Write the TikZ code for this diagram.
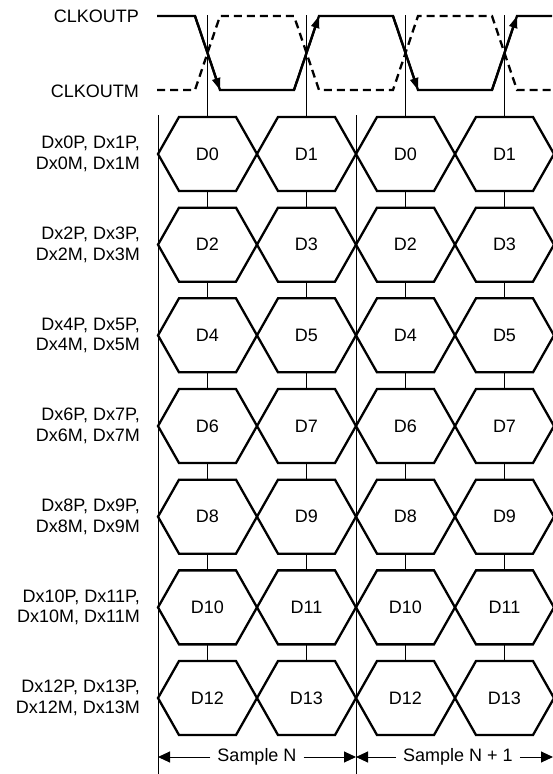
\documentclass[tikz,border=0pt]{standalone}
\usepackage{fontspec}
\setmainfont{Liberation Sans}
\usetikzlibrary{arrows.meta}
\begin{document}
\begin{tikzpicture}[x=1pt,y=-1pt,
  txt/.style={font=\fontsize{18}{20.5}\selectfont, inner sep=0pt},
  samp/.style={font=\fontsize{18}{20.5}\selectfont, inner xsep=7pt, inner ysep=0pt},
  hexbox/.style={minimum width=99pt, minimum height=74pt, inner sep=0pt, outer sep=0pt, font=\fontsize{18}{20.5}\selectfont},
  hexline/.style={line width=2.3pt, line join=miter},
  thinline/.style={line width=1pt},
  clk/.style={line width=2.3pt, line join=miter},
  clkdash/.style={line width=2.3pt, dash pattern=on 8pt off 5pt},
  clkarr/.style={line width=2.3pt, -{Triangle[length=12pt,width=8pt]}},
  dimarr/.style={line width=1pt, -{Triangle[length=12pt,width=11pt]}},
]
\useasboundingbox (0,0) rectangle (552,774);

% hexagons and row labels
\foreach \i in {0,...,6} {
  \pgfmathsetmacro\yc{154+90.67*\i}
  \pgfmathtruncatemacro\ea{2*\i}
  \pgfmathtruncatemacro\ob{2*\i+1}
  \node[txt, anchor=east, align=right] (lab\i) at (140,\yc) {Dx\ea P, Dx\ob P,\\Dx\ea M, Dx\ob M};
  \foreach \j/\lab in {0/\ea,1/\ob,2/\ea,3/\ob} {
    \node[hexbox] (h\i\j) at ({207.5+99*\j},\yc) {D\lab};
    \draw[hexline] ([xshift=21pt]h\i\j.north west) -- ([xshift=-21pt]h\i\j.north east)
      -- (h\i\j.east) -- ([xshift=-21pt]h\i\j.south east)
      -- ([xshift=21pt]h\i\j.south west) -- (h\i\j.west) -- cycle;
  }
}

% connectors between hexagon rows
\foreach \i in {0,...,5} {
  \pgfmathtruncatemacro\k{\i+1}
  \foreach \j in {0,...,3} {
    \draw[thinline] (h\i\j.south) -- (h\k\j.north);
  }
}

% clock labels
\node[txt, anchor=east] (clkp) at (139,16) {CLKOUTP};
\node[txt, anchor=east] (clkm) at (139,91) {CLKOUTM};

% clock crossing lines
\foreach \j in {0,...,3} {
  \coordinate (ck\j) at ({207.5+99*\j},15);
  \draw[thinline] (ck\j) -- (h0\j.north);
}

% CLKOUTM (dashed)
\draw[clkdash] (157,90) -- (195,90) -- (220,16) -- (294,16) -- (319,90)
  -- (393,90) -- (418,16) -- (492,16) -- (517,90) -- (552,90);

% CLKOUTP (solid)
\draw[clk] (157,16) -- (195,16) -- (220,90) -- (294,90) -- (319,16)
  -- (393,16) -- (418,90) -- (492,90) -- (517,16) -- (552,16);
\draw[clkarr] (195,16) -- (220,90);
\draw[clkarr] (294,90) -- (319,16);
\draw[clkarr] (393,16) -- (418,90);
\draw[clkarr] (492,90) -- (517,16);

% sample boundary lines
\coordinate (b0t) at (158,115);
\coordinate (b0b) at (158,774);
\coordinate (b1t) at (356,115);
\coordinate (b1b) at (356,774);
\draw[thinline] (b0t) -- (b0b);
\draw[thinline] (b1t) -- (b1b);

% sample arrows
\node[samp] (sn) at (257,757) {Sample N};
\node[samp] (sn1) at (458,757) {Sample N + 1};
\coordinate (a0) at (158,757);
\coordinate (a1) at (356,757);
\coordinate (a2) at (553,757);
\draw[dimarr] (sn.west) -- (a0);
\draw[dimarr] (sn.east) -- (a1);
\draw[dimarr] (sn1.west) -- (a1);
\draw[dimarr] (sn1.east) -- (a2);
\end{tikzpicture}
\end{document}
